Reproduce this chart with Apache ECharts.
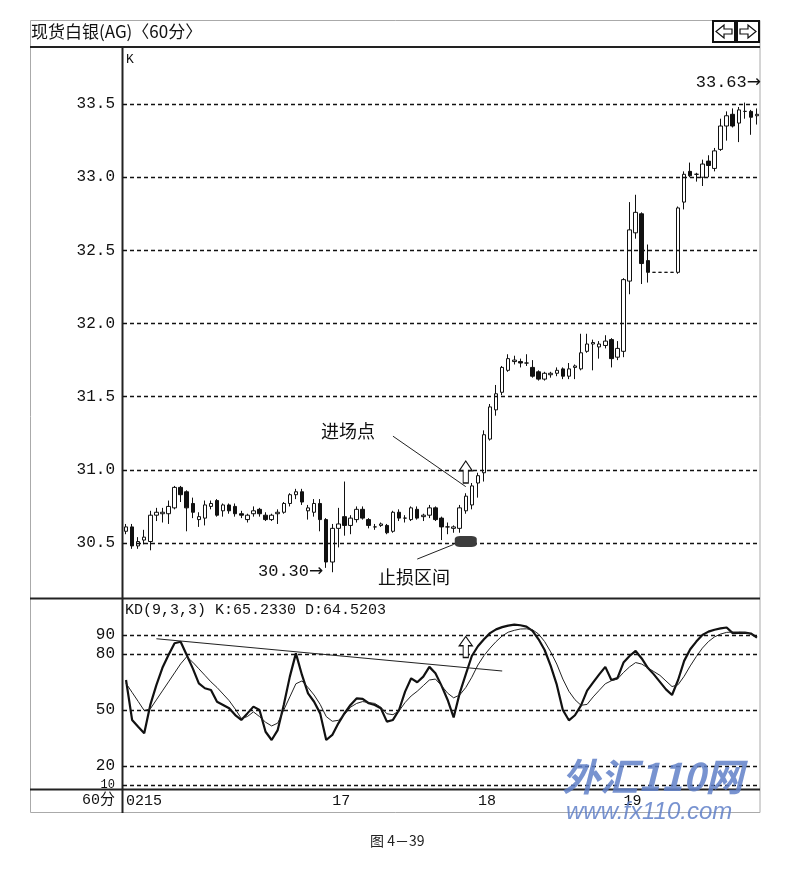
<!DOCTYPE html>
<html><head><meta charset="utf-8">
<script src="https://cdn.jsdelivr.net/npm/echarts@6/dist/echarts.min.js"></script>
<style>html,body{margin:0;padding:0;background:#fff}#c{width:807px;height:876px}</style>
</head><body><div id="c"></div><script>
// ---- data ----
const dayLabels = ['0215', '17', '18', '19'];
const dayStarts = [0, 34, 58, 82];
const priceTicks = [30.5, 31.0, 31.5, 32.0, 32.5, 33.0, 33.5];
const kdTicks = [10, 20, 50, 80, 90];

const opens = [30.58,30.61,30.48,30.52,30.51,30.69,30.70,30.70,30.74,30.88,
30.85,30.77,30.66,30.67,30.75,30.79,30.72,30.76,30.75,30.70,
30.66,30.70,30.73,30.69,30.66,30.70,30.71,30.77,30.83,30.85,
30.72,30.71,30.77,30.66,30.37,30.60,30.68,30.62,30.66,30.73,
30.66,30.61,30.62,30.62,30.58,30.71,30.67,30.66,30.73,30.68,
30.69,30.74,30.67,30.61,30.60,30.60,30.72,30.76,30.91,30.98,
31.21,31.41,31.53,31.68,31.74,31.74,31.73,31.70,31.67,31.62,
31.65,31.66,31.69,31.64,31.70,31.69,31.81,31.86,31.84,31.85,
31.89,31.77,31.81,32.29,32.62,32.75,32.43,32.35,32.35,32.35,
32.35,32.35,32.83,33.04,33.02,33.00,33.11,33.06,33.19,33.35,
33.43,33.37,33.45,33.45,33.42];
const closes = [30.61,30.48,30.51,30.54,30.69,30.71,30.71,30.75,30.88,30.83,
30.74,30.71,30.68,30.76,30.77,30.69,30.76,30.72,30.70,30.69,
30.69,30.72,30.70,30.66,30.69,30.71,30.77,30.83,30.85,30.78,
30.74,30.77,30.66,30.37,30.60,30.63,30.62,30.67,30.73,30.67,
30.62,30.61,30.63,30.57,30.71,30.67,30.67,30.74,30.67,30.69,
30.74,30.66,30.61,30.61,30.61,30.74,30.82,30.89,30.96,31.24,
31.43,31.52,31.70,31.76,31.75,31.73,31.73,31.64,31.62,31.66,
31.66,31.68,31.64,31.69,31.71,31.80,31.86,31.87,31.86,31.88,
31.76,31.83,32.30,32.64,32.76,32.41,32.35,32.35,32.35,32.35,
32.35,32.79,33.02,33.01,33.02,33.09,33.08,33.18,33.35,33.42,
33.35,33.46,33.45,33.41,33.43];
const lows = [30.56,30.46,30.46,30.49,30.45,30.65,30.64,30.63,30.73,30.78,
30.58,30.67,30.61,30.62,30.73,30.68,30.68,30.70,30.68,30.67,
30.64,30.68,30.68,30.65,30.65,30.63,30.70,30.75,30.80,30.76,
30.66,30.68,30.58,30.33,30.30,30.47,30.55,30.56,30.64,30.66,
30.60,30.59,30.61,30.56,30.57,30.65,30.64,30.65,30.66,30.65,
30.67,30.65,30.52,30.56,30.57,30.57,30.70,30.73,30.81,30.92,
31.20,31.37,31.51,31.67,31.72,31.70,31.71,31.63,31.61,31.61,
31.63,31.64,31.62,31.62,31.62,31.68,31.80,31.68,31.76,31.83,
31.70,31.75,31.77,32.20,32.58,32.27,32.28,32.35,32.35,32.35,
32.35,32.34,32.78,33.00,32.97,32.94,33.00,33.04,33.18,33.25,
33.34,33.24,33.40,33.29,33.36];
const highs = [30.63,30.63,30.54,30.59,30.72,30.74,30.74,30.79,30.89,30.89,
30.86,30.81,30.71,30.79,30.79,30.80,30.77,30.77,30.77,30.72,
30.70,30.75,30.74,30.71,30.70,30.73,30.78,30.84,30.87,30.87,
30.76,30.80,30.80,30.67,30.63,30.74,30.92,30.69,30.75,30.75,
30.67,30.63,30.64,30.63,30.72,30.73,30.69,30.75,30.75,30.70,
30.76,30.75,30.68,30.64,30.62,30.76,30.84,30.91,30.98,31.27,
31.45,31.58,31.71,31.79,31.78,31.76,31.79,31.75,31.68,31.67,
31.67,31.70,31.70,31.73,31.72,31.93,31.93,31.89,31.88,31.92,
31.90,31.88,32.31,32.83,32.88,32.76,32.54,32.35,32.35,32.35,
32.35,32.80,33.04,33.10,33.03,33.12,33.15,33.20,33.40,33.45,
33.47,33.48,33.51,33.46,33.47];

const kValues = [66.0,44.7,41.1,37.6,52.7,63.3,72.5,79.3,85.6,86.4,
79.3,72.2,64.2,61.6,60.7,54.4,52.7,50.9,47.3,44.7,
48.2,51.8,50.0,38.4,34.0,39.3,52.7,67.8,80.2,68.7,
58.9,54.4,48.2,34.0,36.7,42.9,48.2,52.7,56.2,55.9,
53.6,52.7,50.9,43.8,44.7,50.0,59.8,66.9,64.8,67.8,
73.0,69.6,63.0,55.5,46.0,59.0,69.0,78.8,84.0,87.7,
91.0,93.0,94.2,95.0,95.5,95.2,94.5,92.2,87.7,82.0,
73.5,63.5,50.0,44.5,47.2,52.5,60.3,64.7,69.0,73.0,
66.0,67.0,75.3,78.8,81.5,77.5,72.5,69.0,65.0,61.0,
58.0,66.0,76.2,82.4,86.5,90.0,91.8,92.8,93.5,94.0,
91.0,91.1,91.3,90.8,88.6];
const dValues = [64.2,59.4,54.6,49.7,50.6,55.4,60.2,65.0,69.8,74.6,
78.4,75.5,72.0,68.5,65.0,62.0,58.5,55.0,50.5,45.5,
46.5,49.0,46.5,43.5,41.5,43.0,50.0,57.0,64.0,65.5,
62.0,58.0,53.0,46.5,44.0,44.5,47.5,51.5,53.5,54.5,
54.0,53.5,51.5,48.0,47.5,49.5,54.0,57.5,60.0,63.0,
66.0,66.5,63.0,59.0,56.5,58.0,62.0,67.5,74.0,79.0,
83.0,86.5,89.5,91.5,92.5,93.2,93.3,92.8,90.5,86.5,
81.0,74.5,66.5,60.0,55.5,52.5,53.0,57.0,60.5,64.0,
65.6,66.5,70.0,73.0,75.3,74.5,72.5,70.5,68.5,65.5,
62.5,63.5,68.0,73.5,78.5,83.0,86.5,89.0,90.5,91.4,
91.6,91.6,91.3,90.4,89.0];

// ---- built from the arrays above ----
const categories = opens.map((_, i) => {
  let d = 0;
  for (let j = 0; j < dayStarts.length; j++) if (i >= dayStarts[j]) d = j;
  return dayLabels[d] + '-' + (i - dayStarts[d]);
});
const candles = opens.map((o, i) => [o, closes[i], lows[i], highs[i]]);

const MONO = '"Liberation Mono", "DejaVu Sans Mono", monospace';
const CJK = '"Noto Sans CJK SC", sans-serif';
const arrowUp = 'path://M5 0L10 7L7 7L7 16L3 16L3 7L0 7Z';
const dash = { type: [4, 3], color: '#111', width: 1.3 };
const arrowRich = { a: { font: '17px "DejaVu Sans", sans-serif', fill: '#111' } };

const chart = echarts.init(document.getElementById('c'), null, { renderer: 'canvas' });
chart.setOption({
  animation: false,
  backgroundColor: '#fff',
  grid: [
    { left: 123, top: 47, width: 637, height: 551 },
    { left: 123, top: 599, width: 637, height: 190 }
  ],
  xAxis: [
    { type: 'category', gridIndex: 0, data: categories, boundaryGap: true,
      axisLine: { show: false }, axisTick: { show: false }, axisLabel: { show: false }, splitLine: { show: false } },
    { type: 'category', gridIndex: 1, data: categories, boundaryGap: true,
      axisLine: { show: false }, axisTick: { show: false }, splitLine: { show: false },
      axisLabel: { show: true, interval: (idx) => dayStarts.includes(idx),
        formatter: (val, idx) => dayLabels[dayStarts.indexOf(idx)],
        align: 'left', margin: 5, fontFamily: MONO, fontSize: 15, color: '#111' } }
  ],
  yAxis: [
    { type: 'value', gridIndex: 0, min: 30.124, max: 33.89, scale: true,
      axisLine: { show: false }, axisTick: { show: false }, splitLine: { show: false },
      axisLabel: { customValues: priceTicks, formatter: (v) => v.toFixed(1),
        fontFamily: MONO, fontSize: 16, color: '#111', margin: 8 } },
    { type: 'value', gridIndex: 1, min: 7.87, max: 109.2,
      axisLine: { show: false }, axisTick: { show: false }, splitLine: { show: false },
      axisLabel: { customValues: kdTicks,
        formatter: (v) => v === 10 ? '{s|10}' : String(v),
        rich: { s: { fontFamily: MONO, fontSize: 12, color: '#111' } },
        fontFamily: MONO, fontSize: 16, color: '#111', margin: 8 } }
  ],
  series: [
    { name: 'K', type: 'candlestick', xAxisIndex: 0, yAxisIndex: 0, data: candles, barWidth: 4,
      itemStyle: { color: '#fff', color0: '#111', borderColor: '#111', borderColor0: '#111', borderWidth: 1 },
      markLine: { symbol: ['none', 'none'], silent: true, animation: false, label: { show: false },
        data: priceTicks.map(v => ({ yAxis: v, lineStyle: dash })).concat([
          [{ coord: [44, 31.23], lineStyle: { type: 'solid', color: '#222', width: 1 } }, { coord: [56, 30.885] }],
          [{ coord: [48, 30.39], lineStyle: { type: 'solid', color: '#222', width: 1 } }, { coord: [54, 30.49] }]
        ]) },
      markPoint: { silent: true, animation: false, label: { show: false },
        data: [
          { coord: [56, 30.51], symbol: 'roundRect', symbolSize: [22, 11], itemStyle: { color: '#3c3c3c' } },
          { coord: [56, 30.985], symbol: arrowUp, symbolSize: [13, 22],
            itemStyle: { color: '#fff', borderColor: '#111', borderWidth: 1.2 } }
        ] } },
    { name: 'Kline', type: 'line', xAxisIndex: 1, yAxisIndex: 1, data: kValues, symbol: 'none',
      lineStyle: { color: '#111', width: 2.2 },
      markLine: { symbol: ['none', 'none'], silent: true, animation: false, label: { show: false },
        data: kdTicks.map(v => ({ yAxis: v, lineStyle: dash })).concat([
          [{ coord: [5, 88], lineStyle: { type: 'solid', color: '#222', width: 1.2 } }, { coord: [62, 70.8] }]
        ]) },
      markPoint: { silent: true, animation: false, label: { show: false },
        data: [ { coord: [56, 83.6], symbol: arrowUp, symbolSize: [13, 21],
          itemStyle: { color: '#fff', borderColor: '#111', borderWidth: 1.2 } } ] } },
    { name: 'Dline', type: 'line', xAxisIndex: 1, yAxisIndex: 1, data: dValues, symbol: 'none',
      lineStyle: { color: '#222', width: 1 } }
  ],
  graphic: [
    { type: 'rect', silent: true, shape: { x: 30.5, y: 20.5, width: 729.5, height: 792 },
      style: { fill: 'none', stroke: '#aaa', lineWidth: 1 } },
    { type: 'line', silent: true, shape: { x1: 30, y1: 47, x2: 760, y2: 47 }, style: { stroke: '#222', lineWidth: 2 } },
    { type: 'line', silent: true, shape: { x1: 30, y1: 598.5, x2: 760, y2: 598.5 }, style: { stroke: '#222', lineWidth: 2 } },
    { type: 'line', silent: true, shape: { x1: 30, y1: 789.5, x2: 760, y2: 789.5 }, style: { stroke: '#222', lineWidth: 2 } },
    { type: 'line', silent: true, shape: { x1: 122.5, y1: 47, x2: 122.5, y2: 813 }, style: { stroke: '#222', lineWidth: 2 } },
    { type: 'text', silent: true, left: 31, top: 23,
      style: { text: '现货白银(AG)〈60分〉', font: '17px ' + CJK, fill: '#111' } },
    { type: 'rect', silent: true, shape: { x: 713, y: 21, width: 22, height: 21 },
      style: { fill: '#fff', stroke: '#111', lineWidth: 2 } },
    { type: 'rect', silent: true, shape: { x: 737, y: 21, width: 22, height: 21 },
      style: { fill: '#fff', stroke: '#111', lineWidth: 2 } },
    { type: 'polygon', silent: true, shape: { points: [[716,31.5],[724,25],[724,29],[732,29],[732,34],[724,34],[724,38]] },
      style: { fill: '#fff', stroke: '#111', lineWidth: 1.2 } },
    { type: 'polygon', silent: true, shape: { points: [[756,31.5],[748,25],[748,29],[740,29],[740,34],[748,34],[748,38]] },
      style: { fill: '#fff', stroke: '#111', lineWidth: 1.2 } },
    { type: 'text', silent: true, left: 126, top: 53, style: { text: 'K', font: '13px ' + MONO, fill: '#111' } },
    { type: 'text', silent: true, right: 46, top: 74,
      style: { text: '33.63{a|→}', font: '17px ' + MONO, fill: '#111', rich: arrowRich } },
    { type: 'text', silent: true, left: 258, top: 563,
      style: { text: '30.30{a|→}', font: '17px ' + MONO, fill: '#111', rich: arrowRich } },
    { type: 'text', silent: true, left: 321, top: 422, style: { text: '进场点', font: '18px ' + CJK, fill: '#111' } },
    { type: 'text', silent: true, left: 378, top: 568, style: { text: '止损区间', font: '18px ' + CJK, fill: '#111' } },
    { type: 'text', silent: true, left: 125, top: 603,
      style: { text: 'KD(9,3,3) K:65.2330 D:64.5203', font: '15px ' + MONO, fill: '#111' } },
    { type: 'text', silent: true, right: 692, top: 793,
      style: { text: '60分', font: '15px ' + MONO + ', ' + CJK, fill: '#111' } },
    { type: 'text', silent: true, left: 370, top: 834, style: { text: '图 4－39', font: '14px ' + CJK, fill: '#222' } },
    { type: 'text', silent: true, left: 562, top: 758, z: 100,
      style: { text: '外汇110网', font: 'italic bold 38px ' + CJK, fill: 'rgba(96,128,200,0.85)' } },
    { type: 'text', silent: true, left: 566, top: 800, z: 100,
      style: { text: 'www.fx110.com', font: 'italic 24px "Liberation Sans", sans-serif', fill: 'rgba(96,128,200,0.85)' } }
  ]
});
</script></body></html>
